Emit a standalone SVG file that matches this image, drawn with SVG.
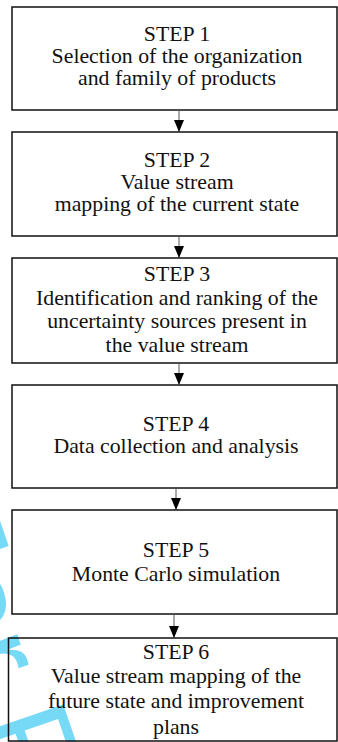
<svg xmlns="http://www.w3.org/2000/svg" width="338" height="742" viewBox="0 0 338 742">
  <style>
    .box { fill: none; stroke: #111111; stroke-width: 1.5; }
    .t { font-family: "Liberation Serif", "Times New Roman", serif; font-size: 21.8px; fill: #111111; text-anchor: middle; }
    .conn { stroke: #555555; stroke-width: 1; fill: none; }
    .wm { font-family: "Liberation Sans", Arial, sans-serif; font-size: 130px; fill: #5fd3f5; }
  </style>
  <defs>
    <marker id="arrow" markerWidth="12" markerHeight="10" refX="12" refY="5" orient="auto" markerUnits="userSpaceOnUse">
      <path d="M0,0 L12,5 L0,10 Z" fill="#000000"/>
    </marker>
  </defs>
  <rect x="0" y="0" width="338" height="742" fill="#ffffff"/>

  <g id="watermark" opacity="0.85">
    <text class="wm" transform="translate(-100,505) rotate(71)">For Peer Review</text>
  </g>

  <g id="step1">
    <rect class="box" x="12" y="7" width="325" height="103"/>
    <text class="t" x="177" y="41">STEP 1</text>
    <text class="t" x="177" y="63">Selection of the organization</text>
    <text class="t" x="177" y="85">and family of products</text>
  </g>
  <g id="step2">
    <rect class="box" x="12" y="132" width="325" height="104"/>
    <text class="t" x="177" y="167">STEP 2</text>
    <text class="t" x="177" y="189">Value stream</text>
    <text class="t" x="177" y="211">mapping of the current state</text>
  </g>
  <g id="step3">
    <rect class="box" x="12" y="258" width="325" height="105"/>
    <text class="t" x="177" y="281">STEP 3</text>
    <text class="t" x="177" y="304.5">Identification and ranking of the</text>
    <text class="t" x="177" y="328">uncertainty sources present in</text>
    <text class="t" x="177" y="351.5">the value stream</text>
  </g>
  <g id="step4">
    <rect class="box" x="12" y="385" width="325" height="103"/>
    <text class="t" x="176" y="431">STEP 4</text>
    <text class="t" x="176" y="453">Data collection and analysis</text>
  </g>
  <g id="step5">
    <rect class="box" x="12" y="510" width="325" height="104"/>
    <text class="t" x="176" y="557">STEP 5</text>
    <text class="t" x="176" y="581">Monte Carlo simulation</text>
  </g>
  <g id="step6">
    <rect class="box" x="8.5" y="638" width="328.5" height="103"/>
    <text class="t" x="176" y="659">STEP 6</text>
    <text class="t" x="176" y="683">Value stream mapping of the</text>
    <text class="t" x="176" y="708">future state and improvement</text>
    <text class="t" x="176" y="734">plans</text>
  </g>

  <g id="connectors">
    <line class="conn" x1="179" y1="110" x2="179" y2="132" marker-end="url(#arrow)"/>
    <line class="conn" x1="179" y1="236" x2="179" y2="258" marker-end="url(#arrow)"/>
    <line class="conn" x1="179" y1="363" x2="179" y2="385" marker-end="url(#arrow)"/>
    <line class="conn" x1="176" y1="488" x2="176" y2="510" marker-end="url(#arrow)"/>
    <line class="conn" x1="174" y1="614" x2="174" y2="638" marker-end="url(#arrow)"/>
  </g>
</svg>
